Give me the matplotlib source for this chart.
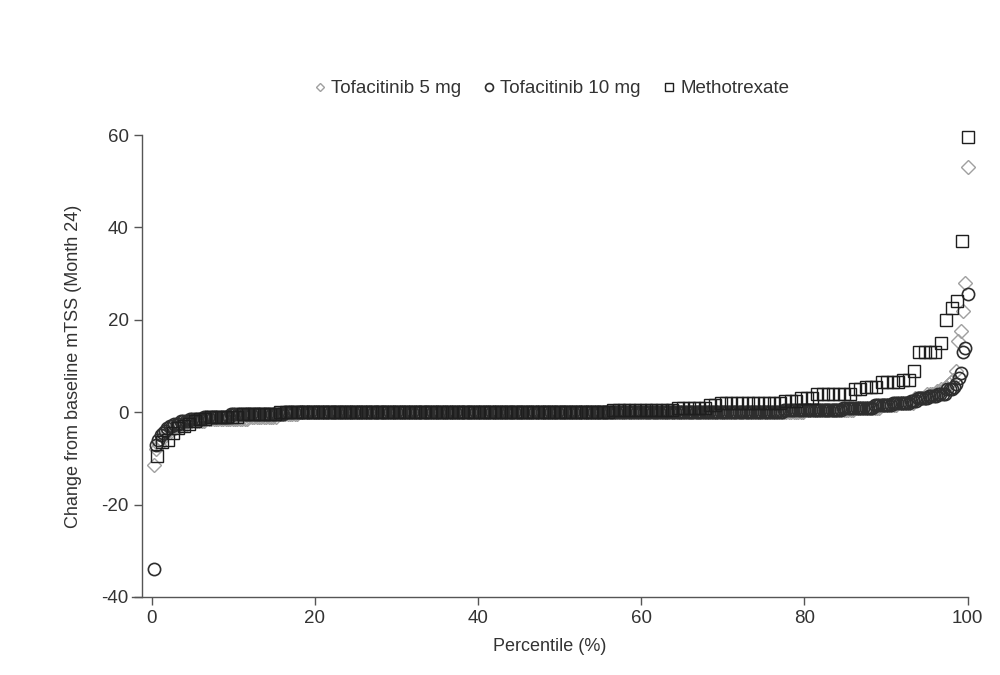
import numpy as np
import matplotlib
matplotlib.use("Agg")
import matplotlib.pyplot as plt

plt.rcParams["font.family"] = ["Liberation Sans", "DejaVu Sans"]
plt.rcParams["axes.unicode_minus"] = False

# sorted change from baseline values, stored as runs (value, count)
tofa5_values = [-11.5, -8, -7, -6, -5, -4.5, -4, -3.5, -3, -2.5, -2, -1.5, -1, -0.5,
                0, 0.5, 1, 1.5, 2, 3, 4, 4.5, 5, 5.5, 6, 6.5, 7,
                9, 15.5, 17.5, 22, 28, 53]
tofa5_counts = [1, 1, 1, 1, 1, 1, 2, 2, 2, 3, 7, 18, 12, 9,
                212, 21, 11, 7, 7, 5, 4, 2, 2, 1, 1, 1, 1,
                1, 1, 1, 1, 1, 1]

tofa10_values = [-34, -7, -6, -5, -4.5, -4, -3.5, -3, -2.5, -2, -1.5, -1, -0.5,
                 0, 0.5, 1, 1.5, 2, 2.5, 3, 3.5, 4, 5, 5.5, 6,
                 7.5, 8.5, 13, 14, 25.5]
tofa10_counts = [1, 1, 1, 1, 1, 1, 1, 2, 3, 4, 6, 12, 24,
                 220, 26, 14, 8, 8, 3, 5, 4, 4, 3, 1, 1,
                 1, 1, 1, 1, 1]

mtx_values = [-9.5, -6.5, -6, -4.5, -3.5, -3, -2.5, -2, -1.5, -1, -0.5,
              0, 0.5, 1, 1.5, 2, 2.5, 3, 4, 5, 5.5, 6.5, 7,
              9, 13, 15, 20, 22.5, 24, 37, 59.5]
mtx_counts = [1, 1, 1, 1, 1, 1, 1, 1, 2, 6, 7,
              62, 12, 6, 2, 12, 3, 3, 7, 2, 3, 4, 2,
              1, 4, 1, 1, 1, 1, 1, 1]

series = [
    ("Tofacitinib 5 mg", tofa5_values, tofa5_counts, "D", 7.0, "#a0a0a0", 1.0),
    ("Tofacitinib 10 mg", tofa10_values, tofa10_counts, "o", 8.8, "#2e2e2e", 1.2),
    ("Methotrexate", mtx_values, mtx_counts, "s", 9.0, "#1e1e1e", 1.0),
]

fig = plt.figure(figsize=(10, 6.75), dpi=100)
ax = fig.add_axes([0.132, 0.1156, 0.8357, 0.6844])

for label, vals, counts, marker, ms, color, lw in series:
    y = np.repeat(vals, counts)
    x = np.arange(1, len(y) + 1) / len(y) * 100
    ax.plot(x, y, linestyle="none", marker=marker, markersize=ms,
            markerfacecolor="none", markeredgecolor=color, markeredgewidth=lw,
            label=label, clip_on=False)

ax.set_xlim(-2.4, 100)
ax.set_ylim(-40, 60)
ax.set_xticks([0, 20, 40, 60, 80, 100])
ax.set_yticks([-40, -20, 0, 20, 40, 60])

ax.spines["top"].set_visible(False)
ax.spines["right"].set_visible(False)
ax.spines["left"].set_position(("data", -1.2))
for s in ["left", "bottom"]:
    ax.spines[s].set_color("#555555")
    ax.spines[s].set_linewidth(1.0)

ax.tick_params(axis="both", direction="out", length=6, width=1.0,
               color="#555555", labelsize=13.5, labelcolor="#333333")

ax.set_xlabel("Percentile (%)", fontsize=13, color="#333333", labelpad=8)
ax.set_ylabel("Change from baseline mTSS (Month 24)", fontsize=13,
              color="#333333", labelpad=14)

ax.legend(loc="center", bbox_to_anchor=(0.5, 1.1), ncol=3, frameon=False,
          fontsize=13.5, markerscale=0.65, handletextpad=0.1, columnspacing=1.0,
          handlelength=1.0, labelcolor="#333333")

plt.savefig("out.png", dpi=100)
